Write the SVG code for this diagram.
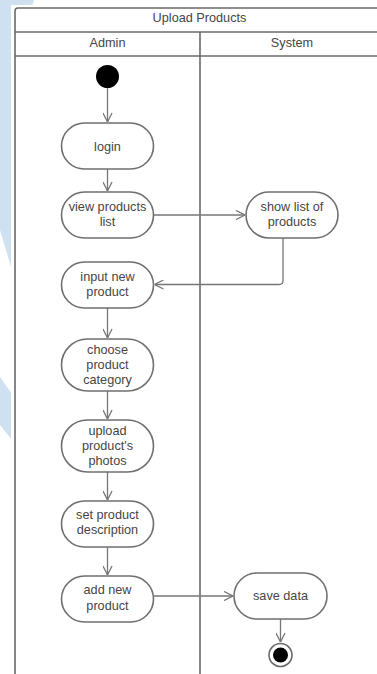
<svg xmlns="http://www.w3.org/2000/svg" width="377" height="674" viewBox="0 0 377 674">
  <style>
    .lbl { font-family: "Liberation Sans", Arial, sans-serif; font-size: 12.7px; fill: #454545; text-anchor: middle; }
    .act { fill: #ffffff; stroke: #6f6f6f; stroke-width: 1.6; }
    .frame { fill: none; stroke: #6a6a6a; stroke-width: 1.6; }
    .flow { fill: none; stroke: #767676; stroke-width: 1.3; }
  </style>
  <defs>
    <marker id="arrow" viewBox="0 0 10 10" refX="10" refY="5" markerWidth="10" markerHeight="10" markerUnits="userSpaceOnUse" orient="auto">
      <path d="M1,0.5 L10,5 L1,9.5" fill="none" stroke="#767676" stroke-width="1.3"/>
    </marker>
  </defs>

  <!-- page background with light blue decoration -->
  <rect x="0" y="0" width="377" height="674" fill="#ffffff"/>
  <g id="backdrop" fill="#cfe1f1">
    <path d="M0,0 H34 L31,10 V260 L11,267 L0,230 Z"/>
    <path d="M0,377 L12,394 V440 L0,425 Z"/>
  </g>
  <rect x="11" y="5" width="366" height="669" fill="#ffffff"/>

  <!-- swimlane frame -->
  <g id="swimlanes">
    <rect class="frame" x="15" y="8" width="369" height="700" rx="3"/>
    <line class="frame" x1="15" y1="32" x2="384" y2="32"/>
    <line class="frame" x1="15" y1="56" x2="384" y2="56"/>
    <line class="frame" x1="200" y1="32" x2="200" y2="674"/>
    <text class="lbl" x="199.5" y="22">Upload Products</text>
    <text class="lbl" x="107.5" y="46.5">Admin</text>
    <text class="lbl" x="292" y="46.5">System</text>
  </g>

  <!-- control flows -->
  <g id="connectors">
    <line class="flow" x1="107.5" y1="88" x2="107.5" y2="122" marker-end="url(#arrow)"/>
    <line class="flow" x1="107.5" y1="169" x2="107.5" y2="191" marker-end="url(#arrow)"/>
    <line class="flow" x1="153.5" y1="215" x2="245" y2="215" marker-end="url(#arrow)"/>
    <path class="flow" d="M283,238 V280.5 Q283,284.5 279,284.5 H154.5" marker-end="url(#arrow)"/>
    <line class="flow" x1="107.5" y1="308" x2="107.5" y2="338" marker-end="url(#arrow)"/>
    <line class="flow" x1="107.5" y1="391" x2="107.5" y2="419" marker-end="url(#arrow)"/>
    <line class="flow" x1="107.5" y1="472" x2="107.5" y2="500" marker-end="url(#arrow)"/>
    <line class="flow" x1="107.5" y1="547" x2="107.5" y2="575" marker-end="url(#arrow)"/>
    <line class="flow" x1="153.5" y1="596" x2="233" y2="596" marker-end="url(#arrow)"/>
    <line class="flow" x1="280.5" y1="619" x2="280.5" y2="642" marker-end="url(#arrow)"/>
  </g>

  <g id="start">
    <circle cx="107.5" cy="76.5" r="11.5" fill="#000000"/>
  </g>

  <g id="login">
    <rect class="act" x="61.5" y="123" width="92" height="46" rx="23"/>
    <text class="lbl" x="107.5" y="150.5">login</text>
  </g>

  <g id="view-products">
    <rect class="act" x="61.5" y="192" width="92" height="46" rx="23"/>
    <text class="lbl" x="107.5" y="211">view products</text>
    <text class="lbl" x="107.5" y="226">list</text>
  </g>

  <g id="show-list">
    <rect class="act" x="246" y="192" width="92" height="46" rx="23"/>
    <text class="lbl" x="292" y="211">show list of</text>
    <text class="lbl" x="292" y="226">products</text>
  </g>

  <g id="input-product">
    <rect class="act" x="61.5" y="262" width="92" height="46" rx="23"/>
    <text class="lbl" x="107.5" y="280.5">input new</text>
    <text class="lbl" x="107.5" y="295.5">product</text>
  </g>

  <g id="choose-category">
    <rect class="act" x="61.5" y="339" width="92" height="52" rx="26"/>
    <text class="lbl" x="107.5" y="354">choose</text>
    <text class="lbl" x="107.5" y="369">product</text>
    <text class="lbl" x="107.5" y="384">category</text>
  </g>

  <g id="upload-photos">
    <rect class="act" x="61.5" y="420" width="92" height="52" rx="26"/>
    <text class="lbl" x="107.5" y="434.5">upload</text>
    <text class="lbl" x="107.5" y="450">product's</text>
    <text class="lbl" x="107.5" y="465">photos</text>
  </g>

  <g id="set-description">
    <rect class="act" x="61.5" y="501" width="92" height="46" rx="23"/>
    <text class="lbl" x="107.5" y="519">set product</text>
    <text class="lbl" x="107.5" y="534">description</text>
  </g>

  <g id="add-product">
    <rect class="act" x="61.5" y="576" width="92" height="46" rx="23"/>
    <text class="lbl" x="107.5" y="594">add new</text>
    <text class="lbl" x="107.5" y="609.5">product</text>
  </g>

  <g id="save-data">
    <rect class="act" x="234" y="573" width="93" height="46" rx="23"/>
    <text class="lbl" x="280.5" y="599.5">save data</text>
  </g>

  <g id="end">
    <circle cx="280.5" cy="655" r="11.5" fill="#ffffff" stroke="#6a6a6a" stroke-width="1.6"/>
    <circle cx="280.5" cy="655" r="7.5" fill="#000000"/>
  </g>
</svg>
